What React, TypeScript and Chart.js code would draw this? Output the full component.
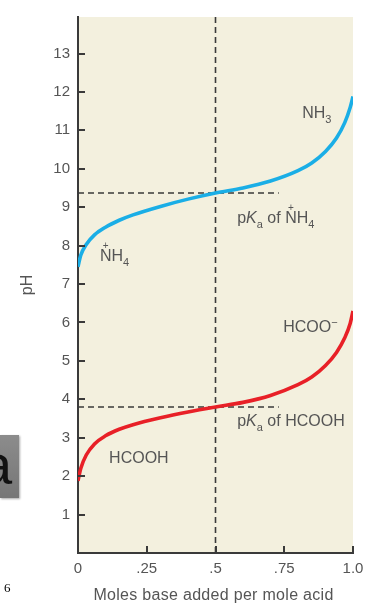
import React, { useEffect, useRef } from 'react';
import { Chart, registerables } from 'chart.js';

Chart.register(...registerables);

// ---- data ----
const moles = [0, 0.01, 0.03, 0.06, 0.1, 0.15, 0.2, 0.3, 0.4, 0.5, 0.6, 0.7, 0.8, 0.85, 0.9, 0.94, 0.97, 0.99, 1.0];
const phAmmonium = [7.45, 7.75, 8.03, 8.28, 8.48, 8.66, 8.8, 9.02, 9.21, 9.37, 9.5, 9.68, 9.95, 10.15, 10.45, 10.8, 11.2, 11.6, 11.88];
const phFormic = [1.88, 2.2, 2.55, 2.84, 3.05, 3.22, 3.34, 3.52, 3.67, 3.8, 3.92, 4.1, 4.38, 4.58, 4.88, 5.22, 5.6, 5.98, 6.3];

const halfEquivalence = 0.5;
const pKaAmmonium = 9.37;
const pKaFormic = 3.8;
const pKaGuideStart = 0;
const pKaGuideEnd = 0.73;

const xTickValues = [0, 0.25, 0.5, 0.75, 1.0];
const xTickLabels = ['0', '.25', '.5', '.75', '1.0'];
const yTickValues = [1, 2, 3, 4, 5, 6, 7, 8, 9, 10, 11, 12, 13];
const yMin = 0;
const yMax = 13.95;

const xTitle = 'Moles base added per mole acid';
const yTitle = 'pH';

// annotation texts (anchored in data units)
type Part = { t: string; k?: 'sub' | 'sup' | 'it'; over?: string };
const annotations: { x: number; y: number; parts: Part[] }[] = [
  { x: 0.815, y: 11.32, parts: [{ t: 'NH' }, { t: '3', k: 'sub' }] },
  { x: 0.08, y: 7.6, parts: [{ t: 'N', over: '+' }, { t: 'H' }, { t: '4', k: 'sub' }] },
  { x: 0.579, y: 8.58, parts: [{ t: 'p' }, { t: 'K', k: 'it' }, { t: 'a', k: 'sub' }, { t: ' of ' }, { t: 'N', over: '+' }, { t: 'H' }, { t: '4', k: 'sub' }] },
  { x: 0.746, y: 5.74, parts: [{ t: 'HCOO' }, { t: '\u2212', k: 'sup' }] },
  { x: 0.579, y: 3.31, parts: [{ t: 'p' }, { t: 'K', k: 'it' }, { t: 'a', k: 'sub' }, { t: ' of HCOOH' }] },
  { x: 0.113, y: 2.35, parts: [{ t: 'HCOOH' }] },
];

const BG = '#F3F0DE';
const AXIS = '#3a3a3a';
const TEXT = '#555555';
const BLUE = '#1AAEE6';
const RED = '#E82027';
const FONT = '"Liberation Sans", Arial, Helvetica, sans-serif';

function drawRich(ctx: CanvasRenderingContext2D, x: number, y: number, parts: Part[]) {
  let cx = x;
  ctx.textBaseline = 'alphabetic';
  ctx.textAlign = 'left';
  ctx.fillStyle = TEXT;
  for (const p of parts) {
    const small = p.k === 'sub' || p.k === 'sup';
    const size = small ? 11 : 16;
    ctx.font = `${p.k === 'it' ? 'italic ' : ''}${size}px ${FONT}`;
    const dy = p.k === 'sub' ? 5 : p.k === 'sup' ? -6 : 0;
    const w = ctx.measureText(p.t).width;
    ctx.fillText(p.t, cx, y + dy);
    if (p.over) {
      ctx.save();
      ctx.font = `10px ${FONT}`;
      ctx.textAlign = 'center';
      ctx.fillText(p.over, cx + w / 2, y - 12);
      ctx.restore();
    }
    cx += w;
  }
}

const decor = {
  id: 'decor',
  beforeDraw(chart: any) {
    const { ctx, chartArea: a } = chart;
    ctx.save();
    ctx.fillStyle = BG;
    ctx.fillRect(a.left, a.top, a.right - a.left, a.bottom - a.top);
    ctx.restore();
  },
  afterDatasetsDraw(chart: any) {
    const { ctx } = chart;
    const xs = chart.scales.x;
    const ys = chart.scales.y;
    ctx.save();
    for (const an of annotations) {
      drawRich(ctx, xs.getPixelForValue(an.x), ys.getPixelForValue(an.y), an.parts);
    }
    ctx.restore();
  },
  afterDraw(chart: any) {
    const { ctx, chartArea: a } = chart;
    const xs = chart.scales.x;
    const ys = chart.scales.y;
    ctx.save();
    ctx.strokeStyle = AXIS;
    ctx.lineWidth = 2;
    ctx.beginPath();
    for (const v of yTickValues) {
      const py = Math.round(ys.getPixelForValue(v));
      ctx.moveTo(a.left, py);
      ctx.lineTo(a.left + 7, py);
    }
    for (const v of xTickValues) {
      if (v === 0) continue;
      const px = Math.round(xs.getPixelForValue(v));
      ctx.moveTo(px, a.bottom);
      ctx.lineTo(px, a.bottom - 7);
    }
    ctx.stroke();

    ctx.fillStyle = TEXT;
    ctx.font = `16px ${FONT}`;
    ctx.textAlign = 'center';
    ctx.textBaseline = 'alphabetic';
    (ctx as any).letterSpacing = '0.3px';
    ctx.fillText(xTitle, (a.left + a.right) / 2 - 2, 600);
    (ctx as any).letterSpacing = '0px';
    ctx.translate(a.left - 50, (a.top + a.bottom) / 2);
    ctx.rotate(-Math.PI / 2);
    ctx.textBaseline = 'middle';
    ctx.fillText(yTitle, 0, 0);
    ctx.restore();
  },
};

export default function App() {
  const ref = useRef<HTMLCanvasElement | null>(null);
  useEffect(() => {
    document.body.style.margin = '0';
    const canvas = ref.current;
    if (!canvas) return;
    const pts = (ys: number[]) => moles.map((m, i) => ({ x: m, y: ys[i] }));
    const dash = {
      borderColor: AXIS,
      borderWidth: 1.6,
      borderDash: [6, 4],
      pointRadius: 0,
      fill: false,
      tension: 0,
    };
    const chart = new Chart(canvas, {
      type: 'line',
      data: {
        datasets: [
          {
            data: pts(phAmmonium),
            borderColor: BLUE,
            borderWidth: 3.6,
            pointRadius: 0,
            cubicInterpolationMode: 'monotone',
          } as any,
          {
            data: pts(phFormic),
            borderColor: RED,
            borderWidth: 3.6,
            pointRadius: 0,
            cubicInterpolationMode: 'monotone',
          } as any,
          { ...dash, data: [{ x: halfEquivalence, y: yMin }, { x: halfEquivalence, y: yMax }] },
          { ...dash, data: [{ x: pKaGuideStart, y: pKaAmmonium }, { x: pKaGuideEnd, y: pKaAmmonium }] },
          { ...dash, data: [{ x: pKaGuideStart, y: pKaFormic }, { x: pKaGuideEnd, y: pKaFormic }] },
        ],
      },
      options: {
        responsive: false,
        animation: false,
        events: [],
        layout: { padding: { left: 0, right: 23, top: 14, bottom: 0 } },
        plugins: { legend: { display: false }, tooltip: { enabled: false } },
        scales: {
          x: {
            type: 'linear',
            min: 0,
            max: 1,
            grid: { display: false, drawTicks: false },
            border: { display: true, color: AXIS, width: 2 },
            afterBuildTicks: (s: any) => {
              s.ticks = xTickValues.map((v) => ({ value: v }));
            },
            afterFit: (s: any) => {
              s.height = 59;
            },
            ticks: {
              padding: 7,
              color: TEXT,
              font: { family: FONT, size: 15 },
              maxRotation: 0,
              autoSkip: false,
              callback: (v: any) => {
                const i = xTickValues.indexOf(Number(v));
                return i >= 0 ? xTickLabels[i] : '';
              },
            },
          },
          y: {
            type: 'linear',
            min: yMin,
            max: yMax,
            grid: { display: false, drawTicks: false },
            border: { display: true, color: AXIS, width: 2 },
            afterBuildTicks: (s: any) => {
              s.ticks = yTickValues.map((v) => ({ value: v }));
            },
            afterFit: (s: any) => {
              s.width = 78;
            },
            ticks: {
              padding: 8,
              color: TEXT,
              font: { family: FONT, size: 15 },
              autoSkip: false,
              callback: (v: any) => String(v),
            },
          },
        },
      },
      plugins: [decor],
    });
    return () => chart.destroy();
  }, []);

  return (
    <div style={{ position: 'fixed', left: 0, top: 0, width: 376, height: 612, background: '#fff', overflow: 'hidden' }}>
      <canvas ref={ref} width={376} height={612} style={{ display: 'block', width: 376, height: 612 }} />
      <div
        style={{
          position: 'absolute',
          left: 0,
          top: 435,
          width: 19,
          height: 63,
          background: 'linear-gradient(#8c8c8c, #767676)',
          boxShadow: '1px 1px 2px rgba(0,0,0,0.35)',
          overflow: 'hidden',
        }}
      >
        <span
          style={{
            position: 'absolute',
            left: -19,
            top: 2,
            fontFamily: FONT,
            fontSize: 56,
            lineHeight: '56px',
            color: '#111',
          }}
        >
          a
        </span>
      </div>
      <span
        style={{
          position: 'absolute',
          left: 4,
          top: 580,
          fontFamily: '"Liberation Serif", "Times New Roman", serif',
          fontSize: 13,
          lineHeight: '15px',
          color: '#000',
        }}
      >
        6
      </span>
    </div>
  );
}
